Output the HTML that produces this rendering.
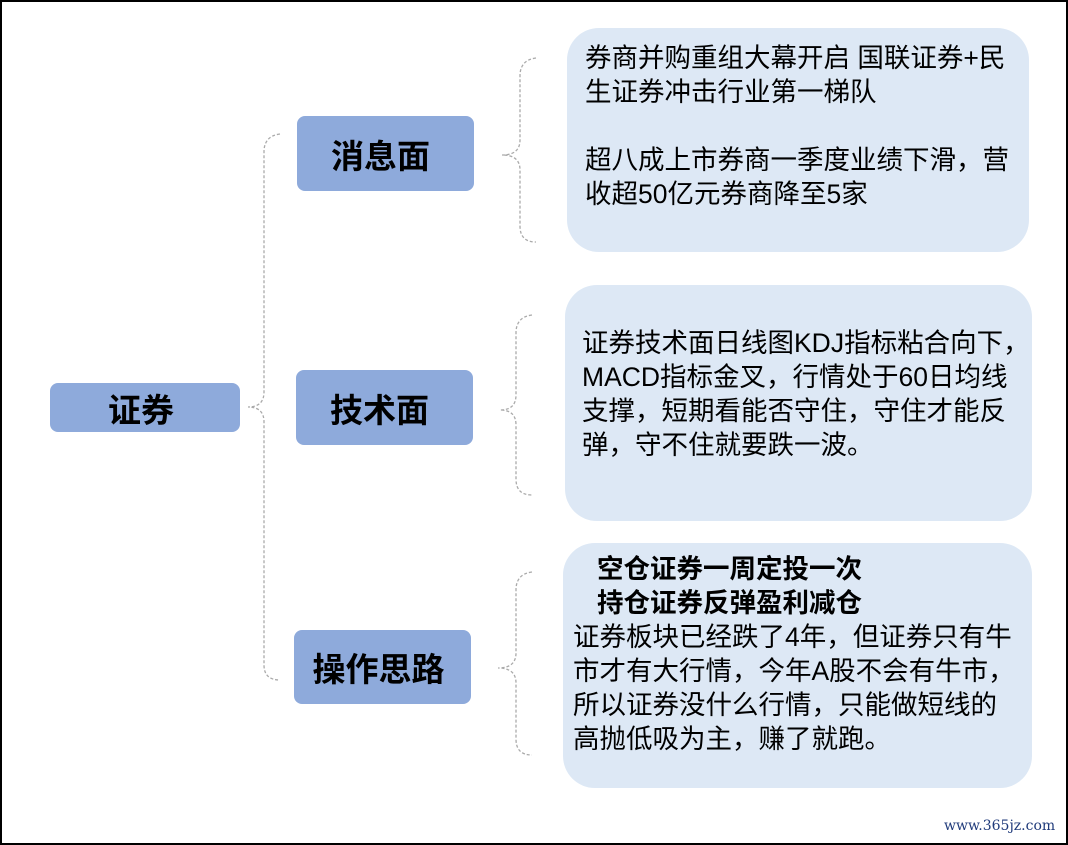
<!DOCTYPE html>
<html><head><meta charset="utf-8"><style>
body{margin:0;width:1068px;height:845px;position:relative;background:#fff;font-family:"Liberation Sans","Noto Sans CJK SC",sans-serif;overflow:hidden}
.frame{position:absolute;left:0;top:0;width:1064px;height:841px;border:2px solid #000}
.n{position:absolute;background:#8eaadb;border-radius:8px;display:flex;align-items:center;justify-content:center;font-weight:bold;font-size:33px;color:#000}
.b{position:absolute;background:#dde8f5;border-radius:32px;font-size:26.5px;line-height:34px;color:#000;box-sizing:border-box;white-space:nowrap}
</style></head><body>
<div class="frame"></div>
<svg width="1068" height="845" style="position:absolute;left:0;top:0">
<g fill="none" stroke="#aaa" stroke-width="1.3" stroke-dasharray="3,2">
<path d="M280,134 Q264,136 264,152 L264,392 Q264,407 248,407 Q264,407 264,422 L264,665 Q264,680 280,680"/>
<path d="M536,58 Q520,60 520,76 L520,140 Q520,155 502,155 Q520,155 520,170 L520,226 Q520,242 536,242"/>
<path d="M532,315 Q516,317 516,333 L516,395 Q516,410 500,410 Q516,410 516,425 L516,479 Q516,495 532,495"/>
<path d="M532,572 Q516,574 516,590 L516,653 Q516,668 498,668 Q516,668 516,683 L516,739 Q516,755 532,755"/>
</g></svg>
<div class="n" style="left:50px;top:383px;width:190px;height:49px;padding-right:8px;box-sizing:border-box">证券</div>
<div class="n" style="left:297px;top:116px;width:177px;height:75px;padding-right:10px;box-sizing:border-box">消息面</div>
<div class="n" style="left:296px;top:370px;width:177px;height:75px;padding-right:10px;box-sizing:border-box">技术面</div>
<div class="n" style="left:294px;top:630px;width:177px;height:74px;padding-right:8px;box-sizing:border-box">操作思路</div>
<div class="b" style="left:567px;top:28px;width:462px;height:224px;padding:13px 0 0 18px">券商并购重组大幕开启 国联证券+民<br>生证券冲击行业第一梯队<br><br>超八成上市券商一季度业绩下滑，营<br>收超50亿元券商降至5家</div>
<div class="b" style="left:565px;top:285px;width:467px;height:236px;padding:41px 0 0 17px">证券技术面日线图KDJ指标粘合向下，<br>MACD指标金叉，行情处于60日均线<br>支撑，短期看能否守住，守住才能反<br>弹，守不住就要跌一波。</div>
<div class="b" style="left:563px;top:543px;width:469px;height:245px;padding:9px 0 0 10px"><div style="font-weight:bold;padding-left:24px">空仓证券一周定投一次<br>持仓证券反弹盈利减仓</div>证券板块已经跌了4年，但证券只有牛<br>市才有大行情，今年A股不会有牛市，<br>所以证券没什么行情，只能做短线的<br>高抛低吸为主，赚了就跑。</div>
<div style="position:absolute;left:944px;top:818px;font-family:'DejaVu Serif',serif;font-size:14px;color:#1f3a7a">www.365jz.com</div>
</body></html>
